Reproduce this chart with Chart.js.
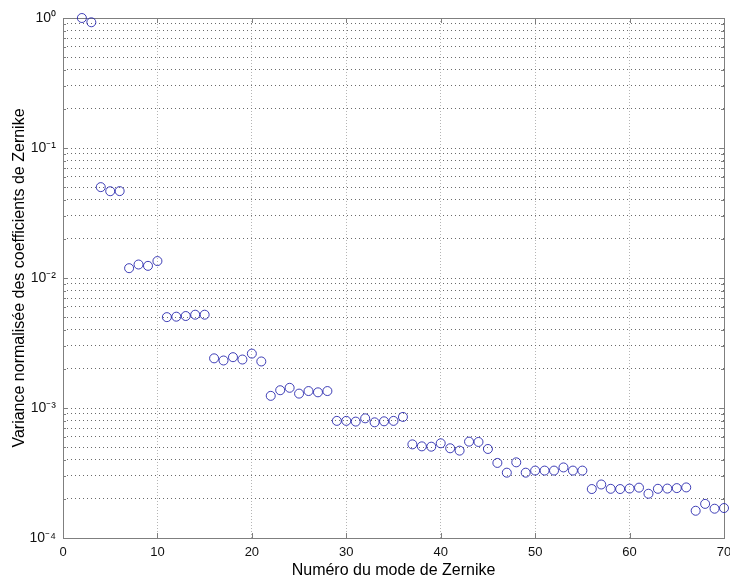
<!DOCTYPE html>
<html>
<head>
<meta charset="utf-8">
<script src="https://cdn.jsdelivr.net/npm/chart.js@4"></script>
<style>
  html, body { margin: 0; padding: 0; background: #fff; }
  #wrap { width: 730px; height: 579px; }
</style>
</head>
<body>
<div id="wrap"><canvas id="chart" width="730" height="579"></canvas></div>
<script>
// Zernike mode numbers
const modes = [2, 3, 4, 5, 6, 7, 8, 9, 10, 11, 12, 13, 14, 15, 16, 17, 18, 19, 20,
  21, 22, 23, 24, 25, 26, 27, 28, 29, 30, 31, 32, 33, 34, 35, 36, 37, 38, 39, 40,
  41, 42, 43, 44, 45, 46, 47, 48, 49, 50, 51, 52, 53, 54, 55, 56, 57, 58, 59, 60,
  61, 62, 63, 64, 65, 66, 67, 68, 69, 70];

// normalised variance of the coefficients
const variance = [1.0, 0.927, 0.050, 0.0465, 0.0466,
  0.0119, 0.0127, 0.0124, 0.0135,
  0.00500, 0.00504, 0.00510, 0.00522, 0.00522,
  0.00241, 0.00232, 0.00246, 0.00236, 0.00262, 0.00228,
  0.00124, 0.00137, 0.00143, 0.00129, 0.00135, 0.00132, 0.00135,
  0.000796, 0.000796, 0.000786, 0.000833, 0.000776, 0.000790, 0.000796, 0.000854,
  0.000525, 0.000507, 0.000504, 0.000535, 0.000490, 0.000470, 0.000551, 0.000548, 0.000484,
  0.000378, 0.000318, 0.000382, 0.000318, 0.000330, 0.000330, 0.000330, 0.000349, 0.000330, 0.000330,
  0.000238, 0.000258, 0.000239, 0.000238, 0.000240, 0.000244, 0.000219, 0.000239, 0.000240, 0.000242, 0.000245,
  0.000162, 0.000183, 0.000168, 0.000170];

const xTicks = [0, 10, 20, 30, 40, 50, 60, 70];
const decades = [1e-4, 1e-3, 1e-2, 1e-1, 1];
const decadeLabels = ["10\u207B\u2074", "10\u207B\u00B3", "10\u207B\u00B2", "10\u207B\u00B9", "10\u2070"];

// all the log gridlines: 1..9 x 10^k
const yTicks = [];
decades.forEach((d, i) => {
  if (i === decades.length - 1) { yTicks.push(d); return; }
  for (let m = 1; m <= 9; m++) yTicks.push(+(m * d).toPrecision(3));
});

const points = modes.map((m, i) => ({ x: m, y: variance[i] }));

const FONT = "'Liberation Sans', Arial, Helvetica, sans-serif";

// frame + inward ticks like matlab
const framePlugin = {
  id: "frame",
  beforeDatasetsDraw(chart) {
    const { ctx, chartArea: a, scales } = chart;
    ctx.save();
    ctx.strokeStyle = "#7f7f7f";
    ctx.lineWidth = 1;
    ctx.strokeRect(Math.round(a.left) + 0.5, Math.round(a.top) + 0.5,
      Math.round(a.right - a.left), Math.round(a.bottom - a.top));
    ctx.beginPath();
    xTicks.forEach(v => {
      const px = Math.round(scales.x.getPixelForValue(v)) + 0.5;
      ctx.moveTo(px, a.bottom); ctx.lineTo(px, a.bottom - 5);
      ctx.moveTo(px, a.top); ctx.lineTo(px, a.top + 5);
    });
    yTicks.forEach(v => {
      const py = Math.round(scales.y.getPixelForValue(v)) + 0.5;
      const len = decades.includes(v) ? 5 : 3;
      ctx.moveTo(a.left, py); ctx.lineTo(a.left + len, py);
      ctx.moveTo(a.right, py); ctx.lineTo(a.right - len, py);
    });
    ctx.stroke();
    ctx.restore();
  }
};

new Chart(document.getElementById("chart"), {
  type: "scatter",
  data: {
    datasets: [{
      data: points,
      showLine: false,
      pointStyle: "circle",
      pointRadius: 4.5,
      pointHoverRadius: 4.5,
      pointBorderWidth: 1,
      pointBorderColor: "rgba(30,30,170,0.85)",
      pointBackgroundColor: "rgba(0,0,0,0)",
      clip: false
    }]
  },
  options: {
    responsive: false,
    animation: false,
    devicePixelRatio: 1,
    layout: { padding: { top: 18, right: 6, left: 0, bottom: 0 } },
    plugins: { legend: { display: false }, tooltip: { enabled: false } },
    scales: {
      x: {
        type: "linear",
        min: 0,
        max: 70,
        afterBuildTicks: s => { s.ticks = xTicks.map(v => ({ value: v })); },
        afterFit: s => { s.height = 41; s.paddingLeft = 0; s.paddingRight = 0; },
        ticks: { autoSkip: false, padding: 7, color: "#111", font: { family: FONT, size: 13 } },
        grid: { color: "#b5b5b5", lineWidth: 1, drawTicks: false },
        border: { display: false, dash: [1, 2] },
        title: {
          display: true,
          text: "Numéro du mode de Zernike",
          color: "#000",
          font: { family: FONT, size: 16 },
          padding: { top: 0, bottom: -1 }
        }
      },
      y: {
        type: "logarithmic",
        min: 1e-4,
        max: 1,
        afterBuildTicks: s => { s.ticks = yTicks.map(v => ({ value: v })); },
        afterFit: s => { s.width = 63; s.paddingTop = 0; s.paddingBottom = 0; },
        ticks: {
          autoSkip: false,
          padding: 7,
          color: "#111",
          font: { family: FONT, size: 14 },
          callback: v => {
            const i = decades.indexOf(v);
            return i >= 0 ? decadeLabels[i] : "";
          }
        },
        grid: { color: "#6a6a6a", lineWidth: 1, drawTicks: false },
        border: { display: false, dash: [1, 3] },
        title: {
          display: true,
          text: "Variance normalisée des coefficients de Zernike",
          color: "#000",
          font: { family: FONT, size: 16 },
          padding: { top: 10, bottom: 0 }
        }
      }
    }
  },
  plugins: [framePlugin]
});
</script>
</body>
</html>
